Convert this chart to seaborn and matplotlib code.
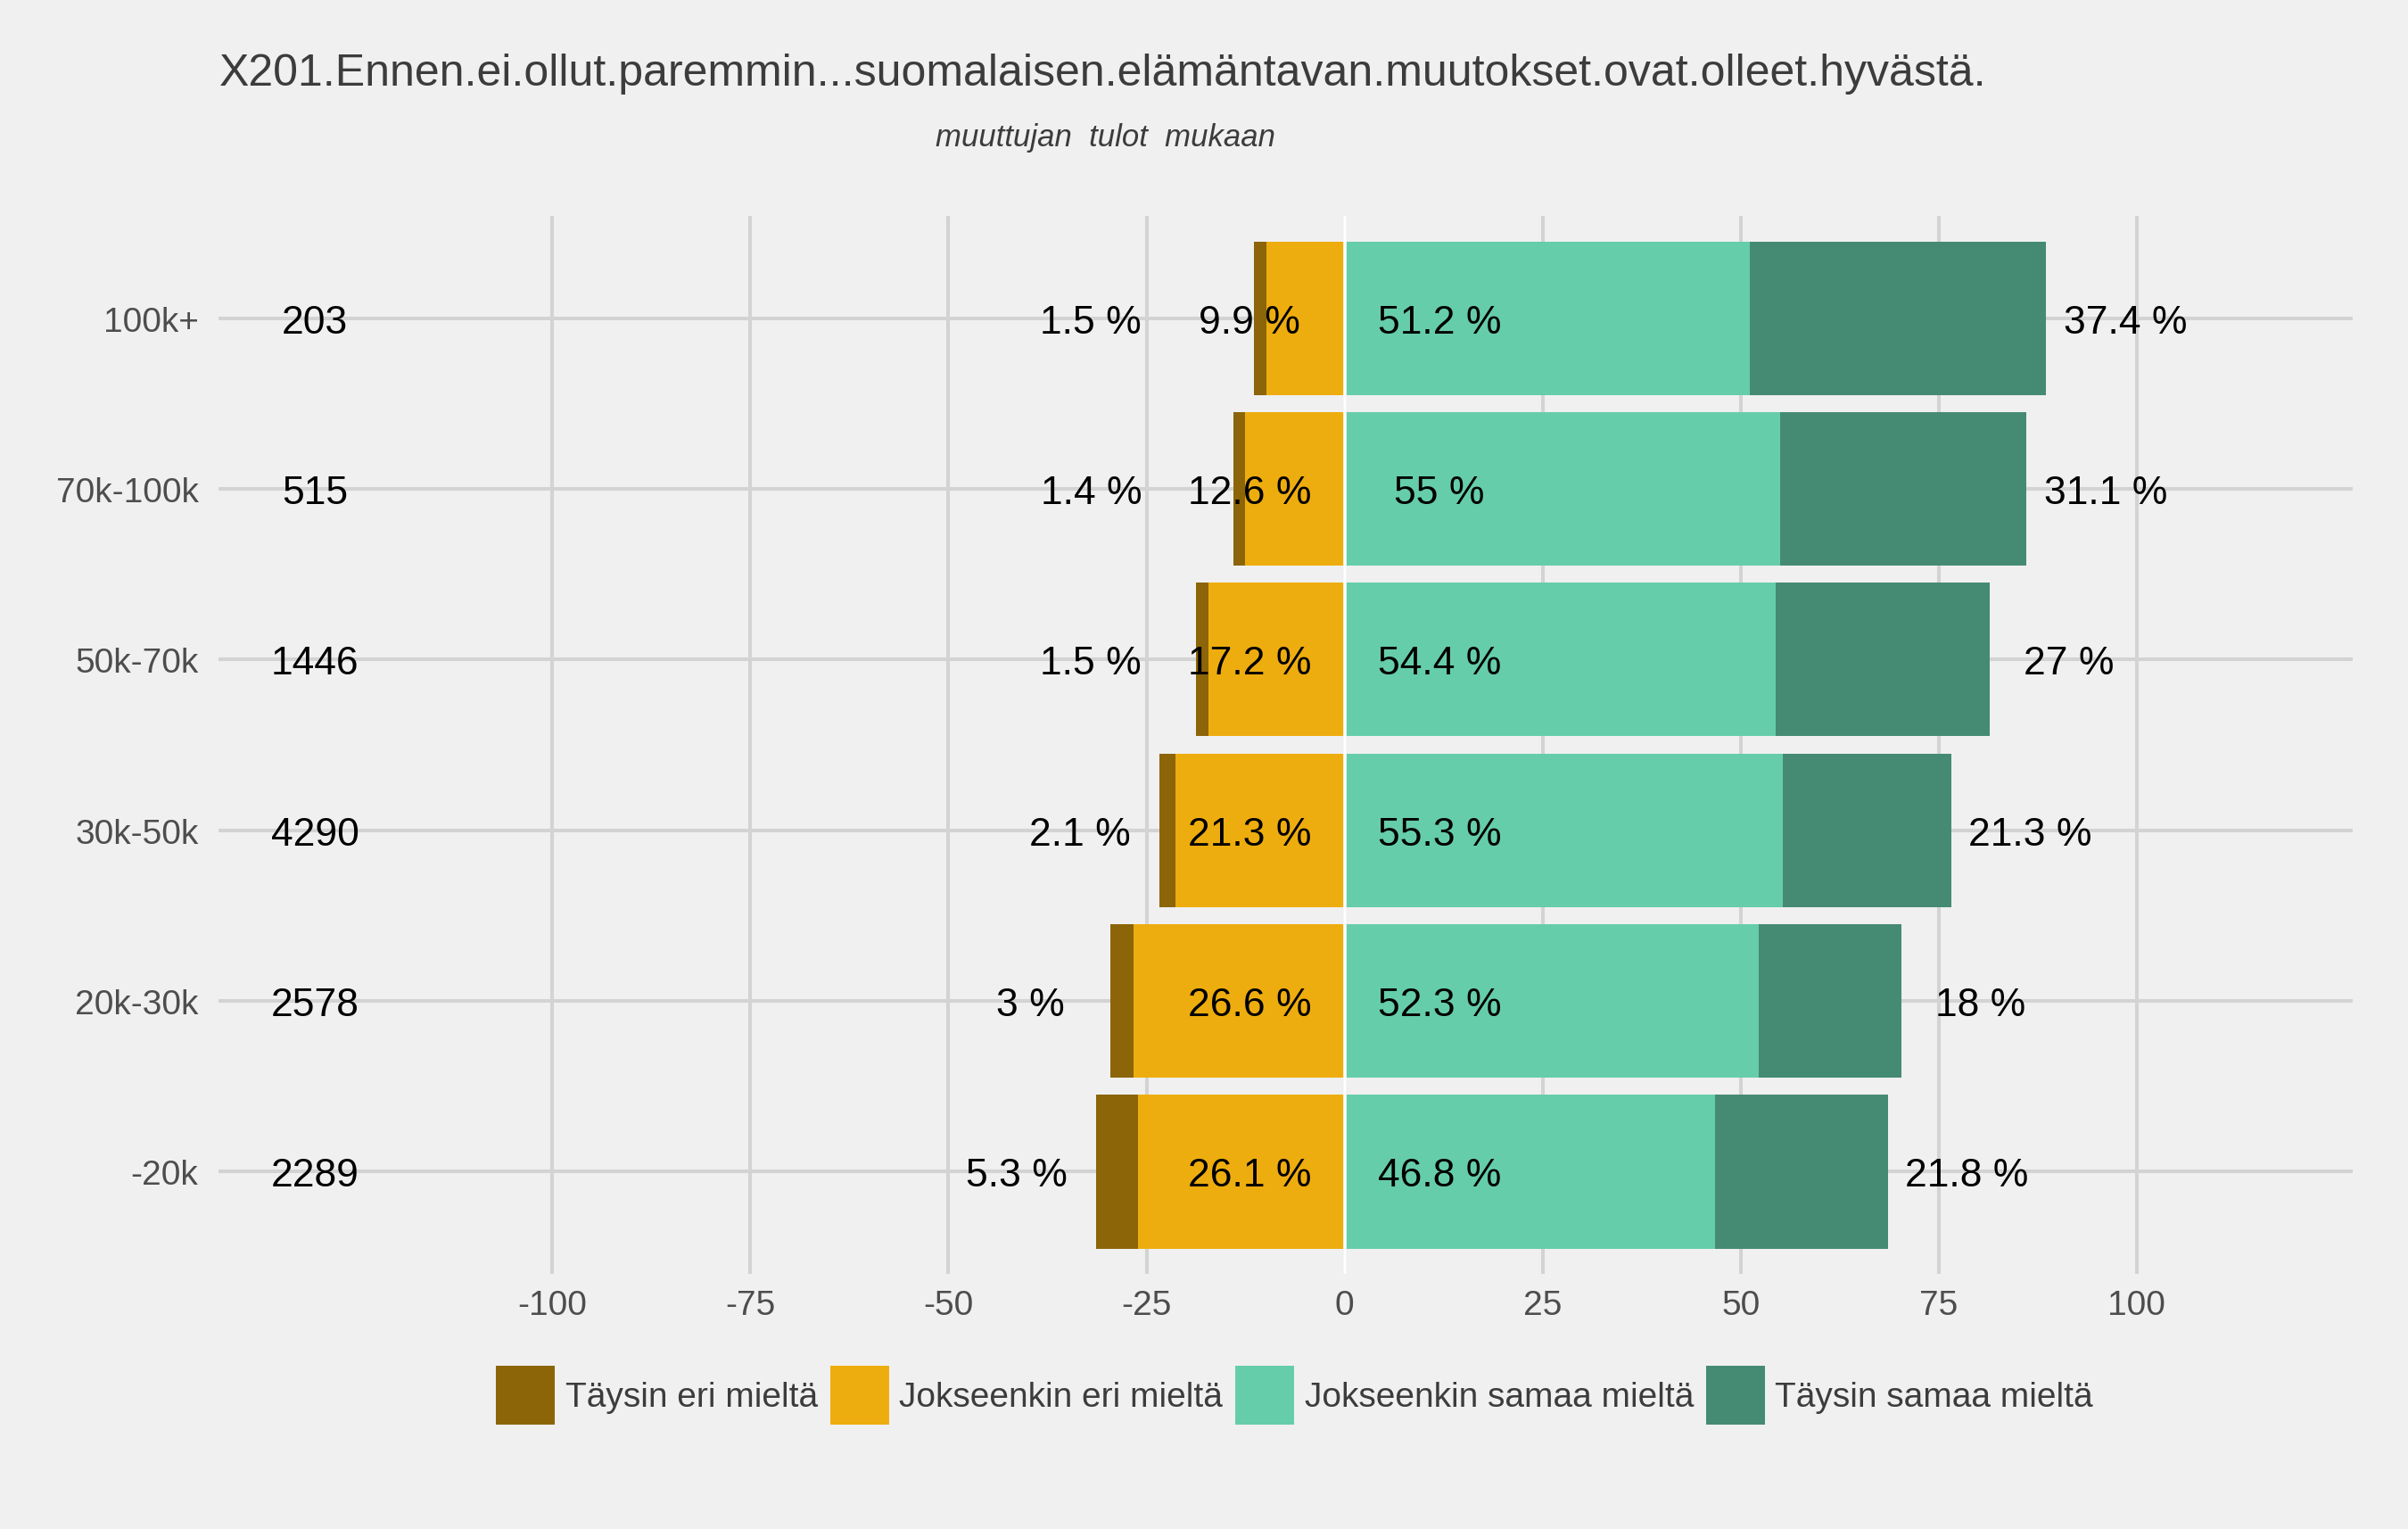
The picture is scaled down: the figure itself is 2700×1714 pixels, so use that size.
import pandas as pd
import matplotlib
matplotlib.use("Agg")
import matplotlib.pyplot as plt
import seaborn as sns
from matplotlib.patches import Patch

# data
groups = ["100k+", "70k-100k", "50k-70k", "30k-50k", "20k-30k", "-20k"]
counts = [203, 515, 1446, 4290, 2578, 2289]
taysin_eri = [1.5, 1.4, 1.5, 2.1, 3.0, 5.3]
jokseenkin_eri = [9.9, 12.6, 17.2, 21.3, 26.6, 26.1]
jokseenkin_samaa = [51.2, 55.0, 54.4, 55.3, 52.3, 46.8]
taysin_samaa = [37.4, 31.1, 27.0, 21.3, 18.0, 21.8]

levels = ["Täysin eri mieltä", "Jokseenkin eri mieltä",
          "Jokseenkin samaa mieltä", "Täysin samaa mieltä"]
colors = ["#8B6508", "#EEAD0E", "#66CDAA", "#458B74"]
xticks = [-100, -75, -50, -25, 0, 25, 50, 75, 100]

title = "X201.Ennen.ei.ollut.paremmin...suomalaisen.elämäntavan.muutokset.ovat.olleet.hyvästä."
subtitle = "muuttujan  tulot  mukaan"

bg = "#f0f0f0"
grid_col = "#d3d3d3"

df = pd.DataFrame({
    "group": groups,
    "n": counts,
    "te": taysin_eri,
    "je": jokseenkin_eri,
    "js": jokseenkin_samaa,
    "ts": taysin_samaa,
})
# cumulative ends for the diverging stack
df["neg_outer"] = -(df["te"] + df["je"])
df["neg_inner"] = -df["je"]
df["pos_outer"] = df["js"] + df["ts"]
df["pos_inner"] = df["js"]

sns.set_theme(style="whitegrid")
plt.rcParams["font.family"] = ["Liberation Sans", "DejaVu Sans"]

fig = plt.figure(figsize=(13.5, 8.575), dpi=200, facecolor=bg)
ax = fig.add_axes([0.0906, 0.1666, 0.8865, 0.6918])
ax.set_facecolor(bg)

layers = [("pos_outer", colors[3]), ("pos_inner", colors[2]),
          ("neg_outer", colors[0]), ("neg_inner", colors[1])]
for col, c in layers:
    sns.barplot(data=df, x=col, y="group", order=groups, orient="h",
                color=c, width=0.9, saturation=1, errorbar=None,
                linewidth=0, ax=ax, zorder=2)

ax.axvline(0, color="white", lw=1.3, zorder=3)

ax.set_xlim(-142.2, 127.3)
ax.set_ylim(5.6, -0.6)
ax.set_xticks(xticks)
ax.set_xticklabels([str(t) for t in xticks])
ax.set_xlabel("")
ax.set_ylabel("")

ax.grid(False)
ax.xaxis.grid(True, color=grid_col, linewidth=1.45)
ax.yaxis.grid(True, color=grid_col, linewidth=1.45)
ax.set_axisbelow(True)
for s in ax.spines.values():
    s.set_visible(False)
ax.tick_params(axis="both", length=0, labelsize=14, labelcolor="#4d4d4d")
ax.tick_params(axis="y", pad=8)
ax.tick_params(axis="x", pad=6)


def pct(v):
    return f"{v:g} %"


lab = dict(fontsize=16, color="black", va="center_baseline", ha="center", zorder=4)
for i, r in df.iterrows():
    ax.text(-130, i, str(r["n"]), **lab)
    ax.text(min(r["neg_outer"] - 10, -32), i, pct(r["te"]), **lab)
    ax.text(-12, i, pct(r["je"]), **lab)
    ax.text(12, i, pct(r["js"]), **lab)
    ax.text(r["pos_outer"] + 10, i, pct(r["ts"]), **lab)

fig.text(0.0912, 0.9438, title, fontsize=18, color="#3c3c3c", ha="left", va="baseline")
fig.text(0.459, 0.9046, subtitle, fontsize=12.5, style="italic", color="#3c3c3c",
         ha="center", va="baseline")

handles = [Patch(facecolor=c, edgecolor="none", label=l) for l, c in zip(levels, colors)]
fig.legend(handles=handles, loc="center", bbox_to_anchor=(0.5376, 0.0873), ncol=4,
           frameon=False, fontsize=14, handlelength=1.70, handleheight=2.23,
           handletextpad=0.3, columnspacing=0.35, labelcolor="#3c3c3c",
           borderpad=0)

fig.savefig("out.png", dpi=200, facecolor=bg)
